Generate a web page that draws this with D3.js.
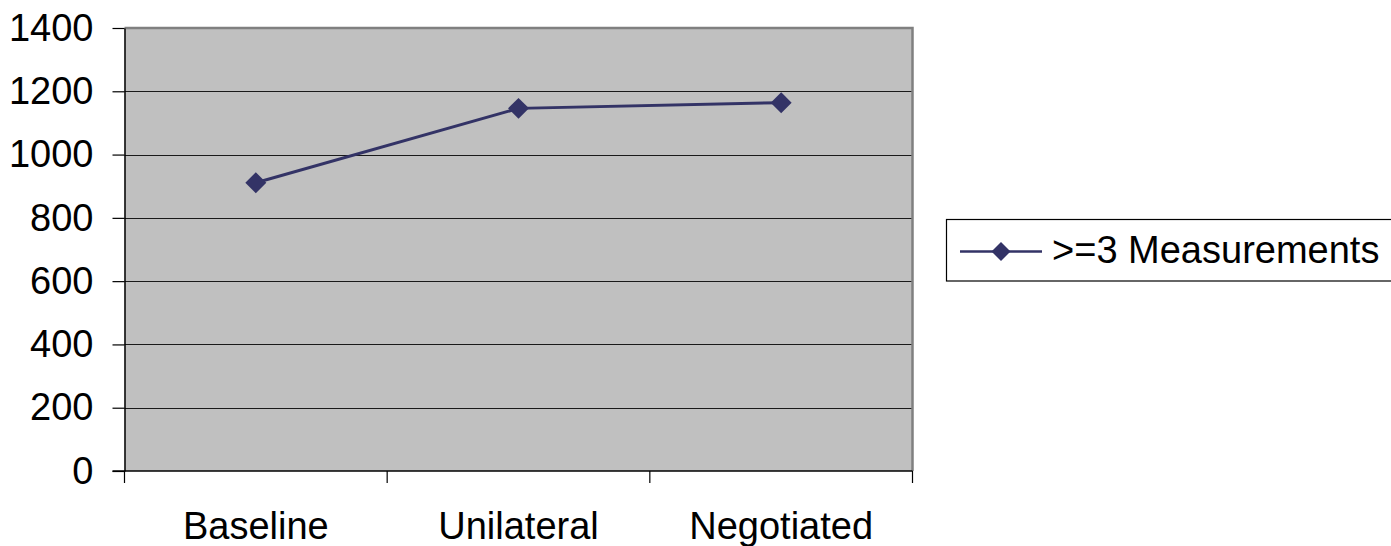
<!DOCTYPE html>
<html>
<head>
<meta charset="utf-8">
<script src="https://cdn.jsdelivr.net/npm/d3@7"></script>
<style>
  html, body { margin: 0; padding: 0; background: #ffffff; }
  svg { display: block; }
  text { font-family: "Liberation Sans", Arial, sans-serif; fill: #000; }
</style>
</head>
<body>
<svg id="chart" width="1391" height="546"></svg>
<script>
// Data
const categories = ["Baseline", "Unilateral", "Negotiated"];
const seriesName = ">=3 Measurements";
const seriesValues = [911, 1146, 1164];
const yTicks = [0, 200, 400, 600, 800, 1000, 1200, 1400];

const W = 1391, H = 546;
const plot = { left: 124.5, right: 912.5, top: 28, bottom: 471 };
const color = "#333366";

const svg = d3.select("#chart");

const x = d3.scalePoint()
  .domain(categories)
  .range([plot.left, plot.right])
  .padding(0.5);

const xEdges = d3.scaleLinear()
  .domain([0, categories.length])
  .range([plot.left, plot.right]);

const y = d3.scaleLinear()
  .domain([0, 1400])
  .range([plot.bottom, plot.top]);

// Plot area background
svg.append("rect")
  .attr("x", plot.left).attr("y", plot.top)
  .attr("width", plot.right - plot.left)
  .attr("height", plot.bottom - plot.top)
  .attr("fill", "#c0c0c0");

// Horizontal gridlines
svg.append("g")
  .selectAll("line")
  .data(yTicks.filter(v => v > 0 && v < 1400))
  .join("line")
  .attr("x1", plot.left).attr("x2", plot.right)
  .attr("y1", d => Math.round(y(d)) + 0.5)
  .attr("y2", d => Math.round(y(d)) + 0.5)
  .attr("stroke", "#1a1a1a")
  .attr("stroke-width", 1.2);

// Top and right border of plot area
svg.append("path")
  .attr("d", `M${plot.left},${plot.top} H${plot.right} V${plot.bottom}`)
  .attr("fill", "none")
  .attr("stroke", "#808080")
  .attr("stroke-width", 2.5);

// Y axis
const yAxis = svg.append("g")
  .attr("transform", `translate(${plot.left},0)`)
  .call(d3.axisLeft(y).tickValues(yTicks).tickFormat(d3.format("d"))
    .tickSize(12).tickPadding(19).tickSizeOuter(0));
yAxis.select(".domain").attr("stroke", "#000").attr("stroke-width", 1.5);
yAxis.selectAll(".tick line").attr("stroke", "#000").attr("stroke-width", 1.2);
yAxis.selectAll(".tick text")
  .attr("font-size", "38px")
  .attr("font-family", "'Liberation Sans', Arial, sans-serif")
  .attr("fill", "#000");

// X axis: tick marks at category boundaries
const xAxis = svg.append("g");
xAxis.append("line")
  .attr("x1", plot.left - 12).attr("x2", plot.right)
  .attr("y1", plot.bottom).attr("y2", plot.bottom)
  .attr("stroke", "#000").attr("stroke-width", 1.5);
xAxis.selectAll("line.tk")
  .data(d3.range(categories.length + 1))
  .join("line")
  .attr("class", "tk")
  .attr("x1", d => xEdges(d)).attr("x2", d => xEdges(d))
  .attr("y1", plot.bottom).attr("y2", plot.bottom + 12)
  .attr("stroke", "#000").attr("stroke-width", 1.2);
xAxis.selectAll("text")
  .data(categories)
  .join("text")
  .attr("x", d => x(d))
  .attr("y", 539)
  .attr("text-anchor", "middle")
  .attr("font-size", "38px")
  .text(d => d);

// Series line
const line = d3.line()
  .x((d, i) => x(categories[i]))
  .y(d => y(d));

svg.append("path")
  .datum(seriesValues)
  .attr("d", line)
  .attr("fill", "none")
  .attr("stroke", color)
  .attr("stroke-width", 3);

// Diamond markers
const diamond = d3.symbol().type(d3.symbolSquare).size(220);
svg.append("g")
  .selectAll("path")
  .data(seriesValues)
  .join("path")
  .attr("d", diamond)
  .attr("transform", (d, i) => `translate(${x(categories[i])},${y(d)}) rotate(45)`)
  .attr("fill", color);

// Legend
const legend = svg.append("g");
legend.append("rect")
  .attr("x", 946.5).attr("y", 219.5)
  .attr("width", 460).attr("height", 61.5)
  .attr("fill", "#fff")
  .attr("stroke", "#000")
  .attr("stroke-width", 1.2);
legend.append("line")
  .attr("x1", 960).attr("x2", 1042)
  .attr("y1", 251.5).attr("y2", 251.5)
  .attr("stroke", color).attr("stroke-width", 2.5);
legend.append("path")
  .attr("d", d3.symbol().type(d3.symbolSquare).size(180))
  .attr("transform", "translate(1001,251.5) rotate(45)")
  .attr("fill", color);
legend.append("text")
  .attr("x", 1052).attr("y", 263)
  .attr("font-size", "38px")
  .text(seriesName);
</script>
</body>
</html>
